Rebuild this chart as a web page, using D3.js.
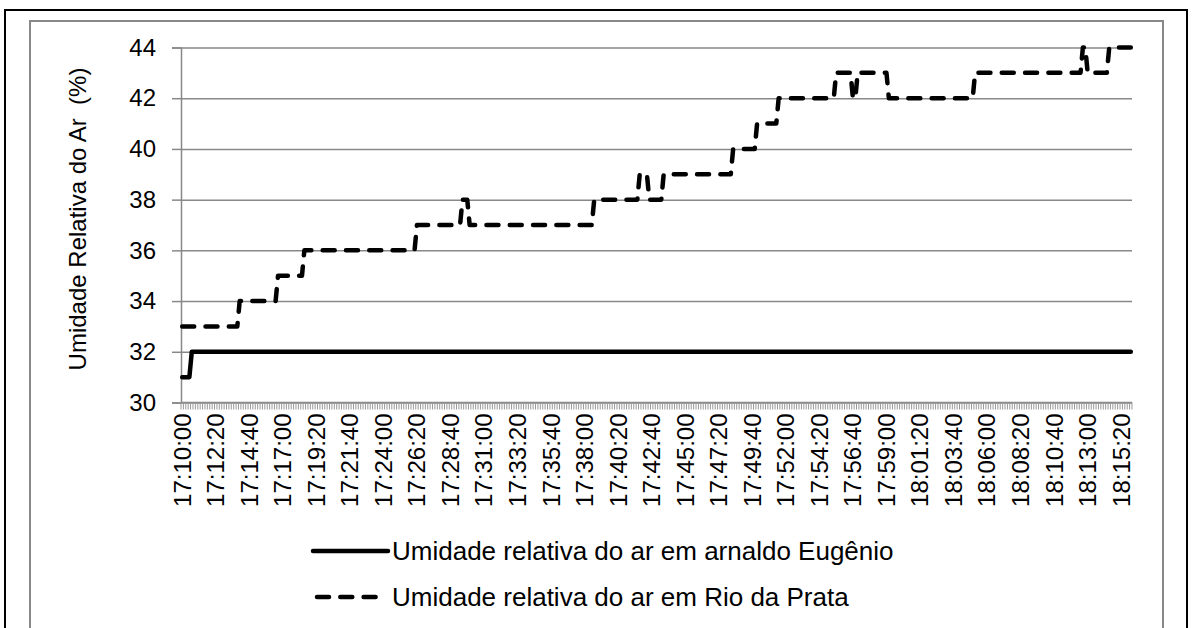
<!DOCTYPE html>
<html>
<head>
<meta charset="utf-8">
<script src="https://cdn.jsdelivr.net/npm/d3@7"></script>
<style>
    html, body { margin: 0; padding: 0; background: #fff; }
    svg { display: block; }
    .grid line { stroke: #888; stroke-width: 1.5; }
    text { font-family: "Liberation Sans", Arial, sans-serif; fill: #000; }
</style>
</head>
<body>
<div id="chart"></div>
<script>
    "use strict";

    //-> readings every 10 seconds, 17:10:00 .. 18:16:00
    var startTime = "17:10:00",
        endTime = "18:16:00",
        stepSeconds = 10;

    var tickLabels = ["17:10:00", "17:12:20", "17:14:40", "17:17:00", "17:19:20", "17:21:40",
        "17:24:00", "17:26:20", "17:28:40", "17:31:00", "17:33:20", "17:35:40", "17:38:00",
        "17:40:20", "17:42:40", "17:45:00", "17:47:20", "17:49:40", "17:52:00", "17:54:20",
        "17:56:40", "17:59:00", "18:01:20", "18:03:40", "18:06:00", "18:08:20", "18:10:40",
        "18:13:00", "18:15:20"];

    var yTicks = [30, 32, 34, 36, 38, 40, 42, 44];

    var seriesNames = ["Umidade relativa do ar em arnaldo Eugênio", "Umidade relativa do ar em Rio da Prata"];

    var arnaldoEugenio = [
        31,31,31,31,
        32,32,32,32,32,32,32,32,32,32, 32,32,32,32,32,32,32,32,32,32,
        32,32,32,32,32,32,32,32,32,32, 32,32,32,32,32,32,32,32,32,32,
        32,32,32,32,32,32,32,32,32,32, 32,32,32,32,32,32,32,32,32,32,
        32,32,32,32,32,32,32,32,32,32, 32,32,32,32,32,32,32,32,32,32,
        32,32,32,32,32,32,32,32,32,32, 32,32,32,32,32,32,32,32,32,32,
        32,32,32,32,32,32,32,32,32,32, 32,32,32,32,32,32,32,32,32,32,
        32,32,32,32,32,32,32,32,32,32, 32,32,32,32,32,32,32,32,32,32,
        32,32,32,32,32,32,32,32,32,32, 32,32,32,32,32,32,32,32,32,32,
        32,32,32,32,32,32,32,32,32,32, 32,32,32,32,32,32,32,32,32,32,
        32,32,32,32,32,32,32,32,32,32, 32,32,32,32,32,32,32,32,32,32,
        32,32,32,32,32,32,32,32,32,32, 32,32,32,32,32,32,32,32,32,32,
        32,32,32,32,32,32,32,32,32,32, 32,32,32,32,32,32,32,32,32,32,
        32,32,32,32,32,32,32,32,32,32, 32,32,32,32,32,32,32,32,32,32,
        32,32,32,32,32,32,32,32,32,32, 32,32,32,32,32,32,32,32,32,32,
        32,32,32,32,32,32,32,32,32,32, 32,32,32,32,32,32,32,32,32,32,
        32,32,32,32,32,32,32,32,32,32, 32,32,32,32,32,32,32,32,32,32,
        32,32,32,32,32,32,32,32,32,32, 32,32,32,32,32,32,32,32,32,32,
        32,32,32,32,32,32,32,32,32,32, 32,32,32,32,32,32,32,32,32,32,
        32,32,32,32,32,32,32,32,32,32, 32,32,32,32,32,32,32,32,32,32,
        32,32,32,32,32,32,32,32,32,32,
        32,32,32
    ];

    var rioDaPrata = [
        33,33,33,33,33,33,33,33,33,33, 33,33,33,33,33,33,33,33,33,33, 33,33,33,33,
        34,34,34,34,34,34,34,34,34,34, 34,34,34,34,34,34,
        35,35,35,35,35,35,35,35,35,35, 35,
        36,36,36,36,36,36,36,36,36,36, 36,36,36,36,36,36,36,36,36,36,
        36,36,36,36,36,36,36,36,36,36, 36,36,36,36,36,36,36,36,36,36,
        36,36,36,36,36,36,36,
        37,37,37,37,37,37,37,37,37,37, 37,37,37,37,37,37,37,37,37,
        38,38,38,
        37,37,37,37,37,37,37,37,37,37, 37,37,37,37,37,37,37,37,37,37,
        37,37,37,37,37,37,37,37,37,37, 37,37,37,37,37,37,37,37,37,37,
        37,37,37,37,37,37,37,37,37,37, 37,37,
        38,38,38,38,38,38,38,38,38,38, 38,38,38,38,38,38,38,38,38,
        39,39,39,39,
        38,38,38,38,38,38,
        39,39,39,39,39,39,39,39,39,39, 39,39,39,39,39,39,39,39,39,39, 39,39,39,39,39,39,39,39,39,
        40,40,40,40,40,40,40,40,40,40,
        41,41,41,41,41,41,41,41,41,
        42,42,42,42,42,42,42,42,42,42, 42,42,42,42,42,42,42,42,42,42, 42,42,42,42,
        43,43,43,43,43,43,43,
        42,42,
        43,43,43,43,43,43,43,43,43,43, 43,43,43,
        42,42,42,42,42,42,42,42,42,42, 42,42,42,42,42,42,42,42,42,42,
        42,42,42,42,42,42,42,42,42,42, 42,42,42,42,42,42,
        43,43,43,43,43,43,43,43,43,43, 43,43,43,43,43,43,43,43,43,43,
        43,43,43,43,43,43,43,43,43,43, 43,43,43,43,43,43,43,43,43,43, 43,43,43,43,43,
        44,44,
        43,43,43,43,43,43,43,43,43,
        44,44,44,44,44,44,44,44,44,44
    ];

    // -> set the dimensions of the graph
    var width = 1192,
        height = 628,
        plot = {left: 181, right: 1132, top: 47.5, bottom: 402.5},
        fontSize = 24,
        legendFontSize = 26;

    var toSeconds = function(s) {
        var p = s.split(":").map(Number);
        return p[0] * 3600 + p[1] * 60 + p[2];
    };
    var fmt = function(sec) {
        var pad = function(n) { return (n < 10 ? "0" : "") + n; };
        return pad(Math.floor(sec / 3600)) + ":" + pad(Math.floor(sec / 60) % 60) + ":" + pad(sec % 60);
    };

    //-> category list (one per reading)
    var categories = d3.range(toSeconds(startTime), toSeconds(endTime) + 1, stepSeconds).map(fmt);

    var x = d3.scaleBand().domain(categories).range([plot.left, plot.right]).padding(0),
        y = d3.scaleLinear().domain([30, 44]).range([plot.bottom, plot.top]);

    var cx = function(c) { return x(c) + x.bandwidth() / 2; };

    var svg = d3.select("#chart").append("svg")
        .attr("width", width)
        .attr("height", height);

    //-> chart frame
    svg.append("rect")
        .attr("x", 5).attr("y", 10).attr("width", 1182).attr("height", 640)
        .attr("fill", "none").attr("stroke", "#000").attr("stroke-width", 2);
    svg.append("rect")
        .attr("x", 30).attr("y", 21).attr("width", 1133).attr("height", 640)
        .attr("fill", "none").attr("stroke", "#888").attr("stroke-width", 2);

    //-> gridlines + Y axis
    svg.append("g")
        .attr("class", "grid")
        .attr("transform", "translate(" + plot.left + ",0)")
        .call(d3.axisLeft(y).tickValues(yTicks).tickSize(-(plot.right - plot.left)).tickFormat(""))
        .call(function(g) { g.select(".domain").remove(); });

    var yAxis = svg.append("g")
        .attr("transform", "translate(" + plot.left + ",0)")
        .call(d3.axisLeft(y).tickValues(yTicks).tickSize(9).tickPadding(16));
    yAxis.selectAll("line, path").attr("stroke", "#888").attr("stroke-width", 1.5);
    yAxis.selectAll("text")
        .style("font-size", fontSize + "px")
        .attr("fill", "#000");

    //-> X axis with a small tick at every category boundary
    var xAxis = svg.append("g")
        .attr("transform", "translate(0," + plot.bottom + ")");
    xAxis.append("line")
        .attr("x1", plot.left).attr("x2", plot.right)
        .attr("stroke", "#888").attr("stroke-width", 1.5);
    xAxis.selectAll(".minor")
        .data(categories.concat([null]))
        .enter().append("line")
        .attr("class", "minor")
        .attr("x1", function(d) { return d === null ? plot.right : x(d); })
        .attr("x2", function(d) { return d === null ? plot.right : x(d); })
        .attr("y1", 0).attr("y2", 7)
        .attr("stroke", "#999").attr("stroke-width", 1);
    xAxis.selectAll(".label")
        .data(tickLabels)
        .enter().append("text")
        .attr("class", "label")
        .attr("transform", function(d) { return "translate(" + cx(d) + ",11)rotate(-90)"; })
        .attr("text-anchor", "end")
        .attr("dy", "0.35em")
        .style("font-size", fontSize + "px")
        .text(function(d) { return d; });

    //-> lines
    var line = function(values) {
        return d3.line()
            .x(function(d, i) { return cx(categories[i]); })
            .y(function(d) { return y(d); })(values);
    };

    svg.append("path")
        .attr("d", line(arnaldoEugenio))
        .attr("fill", "none").attr("stroke", "#000").attr("stroke-width", 4.5)
        .attr("stroke-linejoin", "round").attr("stroke-linecap", "round");

    svg.append("path")
        .attr("d", line(rioDaPrata))
        .attr("fill", "none").attr("stroke", "#000").attr("stroke-width", 4.5)
        .attr("stroke-dasharray", "12 11.3")
        .attr("stroke-linejoin", "round").attr("stroke-linecap", "round");

    //-> Y title (keeps the double space before "(%)")
    svg.append("text")
        .attr("text-anchor", "middle")
        .attr("transform", "translate(78," + ((plot.top + plot.bottom) / 2 - 6) + ")rotate(-90)")
        .attr("dy", "0.35em")
        .style("font-size", fontSize + "px")
        .style("white-space", "pre")
        .text("Umidade Relativa do Ar  (%)");

    //-> legend
    var legend = svg.append("g");
    var legendRows = [
        {name: seriesNames[0], y: 551, dash: null, x1: 313, x2: 388},
        {name: seriesNames[1], y: 597, dash: "12 11.3", x1: 317, x2: 386}
    ];
    legendRows.forEach(function(r) {
        legend.append("line")
            .attr("x1", r.x1).attr("x2", r.x2).attr("y1", r.y).attr("y2", r.y)
            .attr("stroke", "#000").attr("stroke-width", 4.5)
            .attr("stroke-linecap", "round")
            .attr("stroke-dasharray", r.dash);
        legend.append("text")
            .attr("x", 392).attr("y", r.y)
            .attr("dy", "0.35em")
            .style("font-size", legendFontSize + "px")
            .text(r.name);
    });
</script>
</body>
</html>
